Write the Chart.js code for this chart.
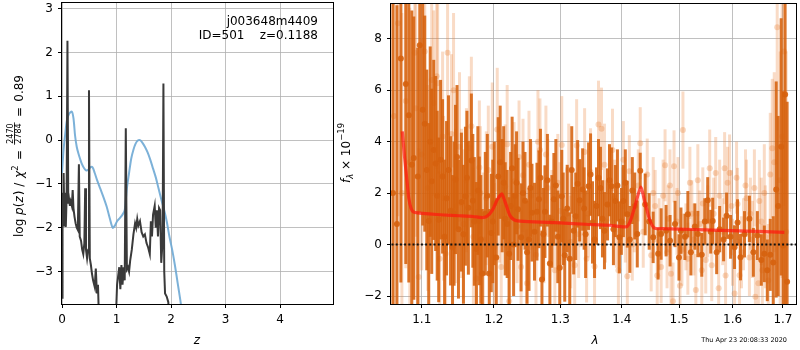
<!DOCTYPE html>
<html>
<head>
<meta charset="utf-8">
<script src="https://cdn.jsdelivr.net/npm/chart.js@4/dist/chart.umd.min.js"></script>
<style>
  body { margin: 0; background: #fff; }
  #wrap { position: relative; width: 800px; height: 350px; }
  canvas { position: absolute; top: 0; }
</style>
</head>
<body>
<div id="wrap">
  <canvas id="pz" width="340" height="350" style="left:0;width:340px;height:350px"></canvas>
  <canvas id="spec" width="470" height="350" style="left:330px;width:470px;height:350px"></canvas>
</div>
<script>
// ---- left panel: log p(z) ----
const zTicks = [0, 1, 2, 3, 4];
const pTicks = [-3, -2, -1, 0, 1, 2, 3];

const zBlue = [0.00, 0.03, 0.06, 0.09, 0.13, 0.18, 0.21, 0.24, 0.27, 0.30, 0.33, 0.36, 0.40, 0.44, 0.48,
  0.52, 0.56, 0.60, 0.64, 0.70, 0.76, 0.82, 0.88, 0.93, 0.97, 1.01, 1.06, 1.11, 1.15, 1.19, 1.23, 1.27,
  1.31, 1.35, 1.39, 1.43, 1.47, 1.52, 1.57, 1.62, 1.67, 1.72, 1.77, 1.82, 1.87, 1.92, 1.97, 2.02, 2.07,
  2.12, 2.17, 2.22];
const pBlue = [-0.75, -0.2, 0.15, 0.45, 0.6, 0.65, 0.5, 0.1, -0.15, -0.3, -0.42, -0.53, -0.63, -0.69, -0.68,
  -0.62, -0.62, -0.75, -0.9, -1.1, -1.3, -1.52, -1.8, -2.0, -1.95, -1.85, -1.78, -1.7, -1.6, -1.1, -0.75, -0.42,
  -0.22, -0.08, -0.01, 0.0, -0.05, -0.15, -0.28, -0.45, -0.65, -0.85, -1.1, -1.35, -1.58, -1.85, -2.2, -2.5, -2.85,
  -3.25, -3.65, -4.1];

const zDark = [0.00, 0.01, 0.02, 0.03, 0.045, 0.055, 0.07, 0.085, 0.10, 0.115, 0.13, 0.145, 0.16, 0.18, 0.196,
  0.21, 0.23, 0.25, 0.27, 0.29, 0.31, 0.325, 0.35, 0.37, 0.39, 0.41, 0.425, 0.44, 0.46, 0.48, 0.495, 0.51,
  0.53, 0.55, 0.57, 0.60, 0.62, 0.64, 0.66, 0.68, 0.70, 0.97, 0.99, 1.01, 1.03, 1.05, 1.07, 1.09, 1.11,
  1.13, 1.15, 1.17, 1.19, 1.21, 1.23, 1.25, 1.28, 1.31, 1.34, 1.36, 1.38, 1.40, 1.43, 1.46, 1.49, 1.52,
  1.55, 1.58, 1.61, 1.63, 1.65, 1.67, 1.70, 1.72, 1.74, 1.76, 1.78, 1.80, 1.82, 1.845, 1.86, 1.875, 1.89,
  1.92, 1.95, 1.97];
const pDark = [-3.6, -1.2, -1.9, -0.75, -1.95, -1.2, -1.98, -1.3, 2.27, -1.45, -1.35, -1.5, -1.4, -1.5, -1.14,
  -1.55, -1.75, -1.9, -2.0, -2.05, -0.55, -2.2, -2.3, -2.5, -2.6, -2.35, -1.1, -2.5, -2.7, -2.5, 1.14, -2.7,
  -2.85, -3.05, -3.2, -3.35, -2.93, -3.5, -3.3, -4.2, -6, -6, -4.0, -3.3, -3.1, -2.9, -3.4, -2.85, -3.3,
  -2.9, -3.2, 0.27, -2.95, -2.9, -3.0, -2.75, -2.5, -2.15, -1.9, -2.0, -1.8, -1.95, -1.85, -2.1, -2.2, -2.15,
  -2.35, -2.45, -2.6, -1.85, -2.2, -1.7, -1.5, -2.0, -1.6, -2.2, -1.55, -1.6, -2.8, -2.3, 1.29, -3.0, -3.5,
  -3.57, -3.7, -4.5];

// ---- right panel: spectrum ----
const lamTicks = [1.1, 1.2, 1.3, 1.4, 1.5, 1.6, 1.7];
const fluxTicks = [-2, 0, 2, 4, 6, 8];

const darkWave = [
  1.0625, 1.0676, 1.0727, 1.0791, 1.0830, 1.0869, 1.0895, 1.0947, 1.0974, 1.1013,
  1.1040, 1.1093, 1.1133, 1.1160, 1.1186, 1.1227, 1.1280, 1.1334, 1.1389, 1.1416,
  1.1457, 1.1498, 1.1539, 1.1595, 1.1636, 1.1678, 1.1720, 1.1749, 1.1791, 1.1833,
  1.1876, 1.1933, 1.1962, 1.2005, 1.2062, 1.2120, 1.2164, 1.2222, 1.2266, 1.2310,
  1.2354, 1.2399, 1.2458, 1.2518, 1.2563, 1.2639, 1.2669, 1.2715, 1.2761, 1.2837,
  1.2899, 1.2960, 1.3022, 1.3069, 1.3148, 1.3211, 1.3274, 1.3306, 1.3354, 1.3402,
  1.3450, 1.3482, 1.3514, 1.3579, 1.3644, 1.3710, 1.3760, 1.3826, 1.3892, 1.3959,
  1.4026, 1.4093, 1.4178, 1.4263, 1.4314, 1.4400, 1.4469, 1.4539, 1.4626, 1.4679,
  1.4767, 1.4838, 1.4927, 1.4998, 1.5034, 1.5106, 1.5160, 1.5215, 1.5288, 1.5343,
  1.5416, 1.5472, 1.5527, 1.5583, 1.5620, 1.5695, 1.5752, 1.5827, 1.5884, 1.5960,
  1.6037, 1.6095, 1.6153, 1.6231, 1.6327, 1.6405, 1.6484, 1.6563, 1.6623, 1.6683,
  1.6743, 1.6803, 1.6863, 1.6903, 1.6964, 1.7005, 1.7045, 1.7086];
const darkFlux = [
  2.0, 0.8, 7.23, 6.24, 5.03, 3.1, 3.36, 2.65, 7.75, 5.24,
  4.7, 0.92, 2.46, 3.68, 3.15, 0.96, 2.65, 1.8, 1.31, -0.1,
  2.53, 0.6, 1.65, 1.88, 1.43, 3.27, 0.9, -0.17, 0.92, -1.12,
  1.2, -1.12, 0.45, 1.6, 2.65, 1.9, 1.0, -0.36, 2.97, 1.9,
  1.37, 0.28, 1.7, 0.2, 1.24, 1.28, 1.76, -1.36, 1.28, -0.74,
  1.76, 0.3, 1.88, -0.42, -0.55, 0.54, 2.36, 1.72, 2.14, 0.4,
  2.27, 2.72, 0.86, 1.5, 2.2, 0.54, 1.56, 2.27, 1.69, 0.28,
  1.69, 1.18, 2.1, 0.41, 2.87, 1.56, 0.9, 0.28, -0.36, 0.41,
  0.54, 0.15, 0.8, -0.5, 0.54, 0.3, 1.18, -0.3, 0.7, 0.41,
  -0.4, 0.9, 1.72, 0.5, 0.92, -0.3, 0.6, 0.2, 1.12, 0.3,
  -0.1, 0.86, -0.49, 0.4, 1.0, -0.3, 0.35, -0.6, -0.36, -1.0,
  -0.4, -0.7, 2.14, 1.5, 3.8, -0.04, 5.83, -1.45];
const darkErr = [
  8.0, 8.5, 8.7, 7.0, 6.5, 6.0, 5.5, 5.0, 6.5, 4.5,
  4.2, 3.8, 3.6, 3.5, 3.4, 3.2, 3.0, 3.0, 2.9, 2.8,
  2.9, 2.7, 2.7, 2.7, 2.6, 2.6, 2.5, 2.6, 2.5, 2.5,
  2.4, 2.5, 2.3, 2.4, 2.3, 2.2, 2.2, 2.2, 2.0, 2.0,
  2.0, 2.1, 1.9, 2.0, 1.9, 1.9, 1.9, 1.9, 1.8, 1.9,
  1.8, 1.8, 1.8, 1.8, 1.8, 1.7, 1.7, 1.6, 1.6, 1.7,
  1.7, 1.6, 1.6, 1.5, 1.6, 1.5, 1.4, 1.5, 1.4, 1.4,
  1.4, 1.3, 1.3, 1.3, 0.7, 1.2, 1.1, 1.0, 1.0, 1.0,
  1.0, 1.0, 0.9, 0.9, 0.9, 0.9, 0.9, 0.9, 0.9, 0.9,
  0.85, 0.9, 0.9, 0.85, 0.9, 0.85, 0.9, 0.85, 0.9, 0.85,
  0.85, 0.9, 0.9, 0.9, 0.9, 0.95, 0.95, 1.0, 1.1, 1.2,
  1.4, 1.8, 4.2, 3.5, 5.0, 6.0, 9.0, 7.0];

// more dark points read between the ones above (1.10 - 1.42)
const darkWave2 = [
  1.1067, 1.1113, 1.1207, 1.1253, 1.1307, 1.1361, 1.1437, 1.1478, 1.1567, 1.1616,
  1.1699, 1.1770, 1.1812, 1.1905, 1.1983, 1.2034, 1.2091, 1.2142, 1.2193, 1.2244,
  1.2288, 1.2332, 1.2428, 1.2488, 1.2540, 1.2601, 1.2692, 1.2738, 1.2799, 1.2868,
  1.2930, 1.2991, 1.3045, 1.3108, 1.3180, 1.3243, 1.3378, 1.3547, 1.3612, 1.3677,
  1.3793, 1.3859, 1.3926, 1.3992, 1.4059, 1.4136, 1.4220];
const darkFlux2 = [
  2.9, 4.0, 1.9, 3.3, 0.3, 2.9, 1.2, 3.4, 0.4, 2.6,
  1.7, 2.1, 0.2, 1.9, 0.9, -0.5, 3.2, 2.4, 0.8, 1.5,
  0.0, 2.4, 2.0, -0.3, 2.2, 0.5, 2.6, 0.4, 2.5, 0.9,
  2.3, -0.9, 1.0, 1.4, 2.9, 1.1, 1.4, 0.2, 2.6, 1.0,
  2.5, 0.6, 2.3, 0.9, 2.4, 0.2, 1.5];
const darkErr2 = [
  3.9, 3.7, 3.3, 3.1, 3.0, 2.9, 2.8, 2.8, 2.7, 2.6,
  2.6, 2.5, 2.5, 2.4, 2.4, 2.3, 2.2, 2.2, 2.1, 2.1,
  2.0, 2.0, 2.0, 2.0, 1.9, 1.9, 1.9, 1.8, 1.8, 1.8,
  1.8, 1.8, 1.8, 1.7, 1.7, 1.7, 1.6, 1.5, 1.5, 1.5,
  1.4, 1.4, 1.4, 1.3, 1.3, 1.3, 1.3];

const lightWave = [
  1.0637, 1.0689, 1.0740, 1.0791, 1.0843, 1.0908, 1.0921, 1.0960, 1.1000, 1.1040,
  1.1080, 1.1133, 1.1200, 1.1213, 1.1240, 1.1280, 1.1321, 1.1348, 1.1402, 1.1457,
  1.1512, 1.1567, 1.1609, 1.1650, 1.1706, 1.1749, 1.1805, 1.1847, 1.1890, 1.1919,
  1.1976, 1.2005, 1.2048, 1.2106, 1.2164, 1.2222, 1.2295, 1.2340, 1.2399, 1.2428,
  1.2488, 1.2548, 1.2624, 1.2654, 1.2684, 1.2745, 1.2806, 1.2868, 1.2914, 1.2960,
  1.3022, 1.3101, 1.3164, 1.3227, 1.3258, 1.3322, 1.3386, 1.3418, 1.3482, 1.3547,
  1.3612, 1.3661, 1.3727, 1.3793, 1.3843, 1.3909, 1.3942, 1.4009, 1.4059, 1.4093,
  1.4127, 1.4212, 1.4280, 1.4314, 1.4366, 1.4435, 1.4504, 1.4574, 1.4644, 1.4679,
  1.4749, 1.4802, 1.4855, 1.4891, 1.4909, 1.4962, 1.5016, 1.5070, 1.5124, 1.5160,
  1.5233, 1.5306, 1.5379, 1.5435, 1.5490, 1.5564, 1.5639, 1.5677, 1.5733, 1.5809,
  1.5846, 1.5903, 1.5941, 1.5998, 1.6037, 1.6095, 1.6134, 1.6211, 1.6269, 1.6327,
  1.6386, 1.6445, 1.6524, 1.6583, 1.6643, 1.6703, 1.6743, 1.6783, 1.6823, 1.6883,
  1.6944, 1.6984, 1.7025, 1.7066];
const lightFlux = [
  5.0, 8.6, 2.0, 5.58, 3.2, 7.46, 5.3, -1.26, 3.5, 7.5,
  2.2, 6.4, 6.54, 6.27, -0.55, 4.2, -0.36, 7.46, 4.3, 1.5,
  3.8, 0.8, 2.5, 3.74, 0.3, -1.32, 2.0, 0.2, 1.8, 2.9,
  3.8, -0.1, 4.47, -0.87, 2.27, -2.2, 2.46, 0.7, -0.87, 2.69,
  -1.5, 1.9, -0.4, 4.0, 3.68, 0.5, 2.2, 1.0, -1.0, 2.4,
  3.87, 1.2, 0.1, -0.8, 3.85, 1.6, 3.6, -0.55, 2.82, -0.85,
  4.67, 4.5, 0.9, 2.4, 3.68, 0.6, -1.0, 1.5, 0.8, -1.23,
  2.85, 1.1, 2.3, 3.94, 0.5, 2.72, -0.42, 1.5, 0.4, -0.87,
  3.08, 1.0, -1.13, -2.2, 3.04, 0.9, -1.6, 4.45, 0.3, -0.55,
  1.2, -1.77, 0.8, 1.6, -0.6, 2.97, 1.2, 2.78, -1.7, 0.5,
  2.97, 2.4, 2.78, -0.3, -1.9, 1.58, -1.19, 0.4, 1.8, -0.5,
  0.2, -2.03, 1.69, -1.0, 0.3, -1.4, 2.72, 3.74, 3.2, 8.45,
  2.5, 4.2, 7.5, 0.5];
const lightErr = [
  8.0, 7.5, 7.0, 6.5, 6.0, 5.5, 5.0, 5.0, 4.5, 4.2,
  4.0, 3.8, 3.6, 3.5, 3.4, 3.3, 3.2, 3.2, 3.1, 3.0,
  2.9, 2.9, 2.8, 2.8, 2.7, 2.7, 2.6, 2.6, 2.6, 2.5,
  2.5, 2.5, 2.4, 2.4, 2.4, 2.3, 2.3, 2.2, 2.2, 2.2,
  2.1, 2.1, 2.0, 2.0, 2.0, 2.0, 1.9, 1.9, 1.9, 1.9,
  1.9, 1.8, 1.8, 1.8, 1.8, 1.7, 1.7, 1.7, 1.7, 1.6,
  1.7, 1.6, 1.6, 1.5, 1.6, 1.5, 1.5, 1.5, 1.5, 1.4,
  1.4, 1.4, 1.4, 1.4, 1.4, 1.4, 1.4, 1.4, 1.4, 1.4,
  1.4, 1.3, 1.4, 1.5, 1.4, 1.3, 1.4, 1.5, 1.3, 1.4,
  1.3, 1.4, 1.3, 1.4, 1.3, 1.5, 1.4, 1.4, 1.4, 1.3,
  1.4, 1.4, 1.5, 1.3, 1.5, 1.4, 1.4, 1.4, 1.5, 1.5,
  1.5, 1.6, 1.6, 1.8, 2.0, 2.2, 2.4, 2.7, 3.5, 4.0,
  5.0, 5.5, 6.0, 7.0];

// more light points read between the ones above
const lightWave2 = [
  1.4540, 1.4610, 1.4714, 1.4784, 1.4836, 1.4980, 1.5052, 1.5197, 1.5270, 1.5343,
  1.5416, 1.5527, 1.5602, 1.5752, 1.5865, 1.5979, 1.6076, 1.6172, 1.6250, 1.6346,
  1.6425, 1.6504, 1.6563, 1.6623, 1.1160, 1.1294, 1.1430, 1.1540, 1.1678, 1.1791,
  1.2077, 1.2193, 1.2369, 1.2518, 1.2776, 1.2991, 1.3132, 1.3290, 1.3450, 1.3710,
  1.3876, 1.4026, 1.4178];
const lightFlux2 = [
  2.0, -1.2, 1.9, -0.3, 2.3, 2.0, -0.2, 2.4, 0.2, 2.5,
  -1.0, 0.9, -0.8, 1.9, -1.2, 1.5, 2.6, -0.3, 2.3, 1.2,
  2.2, -1.5, 0.9, 2.0, 5.5, 1.8, 6.0, 1.6, 4.6, 3.0,
  1.7, 3.9, 3.4, 3.1, 3.5, 1.3, 2.9, 0.4, 1.2, 3.1,
  1.8, 3.3, 0.0];
const lightErr2 = [
  1.4, 1.4, 1.4, 1.4, 1.4, 1.4, 1.4, 1.4, 1.4, 1.4,
  1.4, 1.4, 1.4, 1.4, 1.4, 1.4, 1.4, 1.4, 1.4, 1.4,
  1.5, 1.6, 1.7, 1.9, 3.6, 3.2, 3.0, 2.9, 2.7, 2.6,
  2.4, 2.3, 2.2, 2.1, 1.9, 1.9, 1.8, 1.7, 1.7, 1.6,
  1.5, 1.5, 1.4];

const modelWave = [1.0745, 1.0775, 1.0805, 1.0830, 1.0860, 1.0890, 1.0950, 1.1100, 1.1300, 1.1500,
  1.1700, 1.1830, 1.1900, 1.1980, 1.2050, 1.2115, 1.2170, 1.2230, 1.2290, 1.2350, 1.2600, 1.3000,
  1.3400, 1.3800, 1.4080, 1.4150, 1.4230, 1.4323, 1.4400, 1.4480, 1.4560, 1.4700, 1.5000, 1.5500,
  1.6000, 1.6500, 1.7030];
const modelFlux = [4.4, 3.4, 2.5, 1.8, 1.4, 1.27, 1.23, 1.19, 1.15, 1.12,
  1.09, 1.05, 1.1, 1.35, 1.75, 1.97, 1.6, 1.15, 0.97, 0.92, 0.88, 0.84,
  0.79, 0.75, 0.69, 0.95, 1.55, 2.23, 1.6, 0.95, 0.64, 0.62, 0.6, 0.57,
  0.54, 0.51, 0.47];

Chart.defaults.font.family = "'DejaVu Sans', sans-serif";
Chart.defaults.font.size = 12;
Chart.defaults.color = '#000';

const FONT = "'DejaVu Sans', sans-serif";
const minus = v => (v < 0 ? '\u2212' + Math.abs(v) : String(v));
const toXY = (xs, ys) => xs.map((x, i) => ({ x: x, y: ys[i] }));

function axisOpts(extra) {
  return Object.assign({
    grid: { color: '#b0b0b0', lineWidth: 0.8, tickColor: '#000', tickLength: 4, tickWidth: 1 },
    border: { display: false },
    ticks: { color: '#000', autoSkip: false, maxRotation: 0, font: { size: 12 } }
  }, extra);
}

// black frame around the plot area
const frame = {
  id: 'frame',
  afterDraw(chart) {
    const { ctx, chartArea: a } = chart;
    ctx.save();
    ctx.strokeStyle = '#000';
    ctx.lineWidth = 1;
    ctx.strokeRect(Math.round(a.left) - 0.5, Math.round(a.top) - 0.5,
      Math.round(a.right - a.left) + 1, Math.round(a.bottom - a.top) + 1);
    ctx.restore();
  }
};

// vertical error bars, drawn under each dataset's markers
const errorBars = {
  id: 'errorBars',
  beforeDatasetDraw(chart, args) {
    const ds = chart.data.datasets[args.index];
    if (!ds.errs) return;
    const { ctx, chartArea: a } = chart;
    const x = chart.scales.x, y = chart.scales.y;
    ctx.save();
    ctx.beginPath();
    ctx.rect(a.left, a.top, a.right - a.left, a.bottom - a.top);
    ctx.clip();
    ctx.strokeStyle = ds.barColor;
    ctx.lineWidth = 3;
    ds.data.forEach((p, i) => {
      const px = x.getPixelForValue(p.x);
      ctx.beginPath();
      ctx.moveTo(px, y.getPixelForValue(p.y - ds.errs[i]));
      ctx.lineTo(px, y.getPixelForValue(p.y + ds.errs[i]));
      ctx.stroke();
    });
    ctx.restore();
  }
};

// rotated label made of pieces (normal, italic, super/subscript, fraction)
function mathLabel(ctx, bx, cy, parts) {
  ctx.save();
  ctx.translate(bx, cy);
  ctx.rotate(-Math.PI / 2);
  ctx.fillStyle = '#000';
  ctx.textBaseline = 'alphabetic';
  let total = 0;
  parts.forEach(p => {
    ctx.font = p.font;
    if (p.frac) {
      p.w = Math.max(ctx.measureText(p.frac[0]).width, ctx.measureText(p.frac[1]).width) + 2;
    } else {
      p.w = ctx.measureText(p.t).width + (p.pad || 0);
    }
    total += p.w;
  });
  let x = -total / 2;
  parts.forEach(p => {
    ctx.font = p.font;
    if (p.frac) {
      ctx.textAlign = 'center';
      ctx.fillText(p.frac[0], x + p.w / 2, -9.2);
      ctx.fillText(p.frac[1], x + p.w / 2, -1.6);
      ctx.fillRect(x, -8.4, p.w, 0.8);
      ctx.textAlign = 'left';
    } else {
      ctx.textAlign = 'left';
      ctx.fillText(p.t, x + (p.pad || 0) / 2, p.dy || 0);
    }
    x += p.w;
  });
  ctx.restore();
}

const N = '12px ' + FONT, I = 'italic 12px ' + FONT, S = '8.5px ' + FONT, SI = 'italic 8.5px ' + FONT;

const leftText = {
  id: 'leftText',
  afterDraw(chart) {
    const ctx = chart.ctx;
    ctx.save();
    ctx.fillStyle = '#000';
    ctx.font = N;
    ctx.textAlign = 'right';
    ctx.textBaseline = 'alphabetic';
    ctx.fillText('j003648m4409', 318, 24.5);
    ctx.fillText('ID=501    z=0.1188', 318, 38.5);
    ctx.font = I;
    ctx.textAlign = 'center';
    ctx.fillText('z', 197, 343.5);
    ctx.restore();
    mathLabel(ctx, 22.5, 156, [
      { t: 'log ', font: N },
      { t: 'p', font: I },
      { t: '(', font: N },
      { t: 'z', font: I },
      { t: ') / ', font: N, pad: 2 },
      { t: '\u03c7', font: I },
      { t: '2', font: S, dy: -5 },
      { t: ' = ', font: N, pad: 3 },
      { frac: ['2470', '2784'], font: '8px ' + FONT },
      { t: ' = ', font: N, pad: 3 },
      { t: '0.89', font: N }
    ]);
  }
};

const rightText = {
  id: 'rightText',
  afterDraw(chart) {
    const ctx = chart.ctx;
    ctx.save();
    ctx.fillStyle = '#000';
    ctx.font = I;
    ctx.textAlign = 'center';
    ctx.fillText('\u03bb', 265, 344);
    ctx.font = '6.5px ' + FONT;
    ctx.textAlign = 'right';
    ctx.fillText('Thu Apr 23 20:08:33 2020', 457, 342);
    ctx.restore();
    mathLabel(ctx, 19.5, 153, [
      { t: 'f', font: I },
      { t: '\u03bb', font: SI, dy: 3 },
      { t: ' \u00d7 10', font: N },
      { t: '\u221219', font: S, dy: -5.5 }
    ]);
  }
};

new Chart(document.getElementById('pz'), {
  type: 'line',
  data: {
    datasets: [
      { data: toXY(zDark, pDark), borderColor: '#3a3a3a', borderWidth: 2, pointRadius: 0, tension: 0, order: 0 },
      { data: toXY(zBlue, pBlue), borderColor: 'rgba(110,168,212,0.9)', borderWidth: 2, pointRadius: 0, tension: 0.3, order: 1 }
    ]
  },
  options: {
    responsive: false,
    animation: false,
    layout: { padding: { top: 3, right: 7, left: 0, bottom: 0 } },
    plugins: { legend: { display: false }, tooltip: { enabled: false } },
    scales: {
      x: axisOpts({
        type: 'linear', min: 0, max: 4.97,
        afterBuildTicks: s => { s.ticks = zTicks.map(v => ({ value: v })); },
        afterFit: s => { s.height = 46; s.paddingLeft = 0; s.paddingRight = 0; },
        ticks: { color: '#000', autoSkip: false, maxRotation: 0, padding: 5, callback: v => minus(v) }
      }),
      y: axisOpts({
        type: 'linear', min: -3.74, max: 3.13,
        afterBuildTicks: s => { s.ticks = pTicks.map(v => ({ value: v })); },
        afterFit: s => { s.width = 62; s.paddingTop = 0; s.paddingBottom = 0; },
        ticks: { color: '#000', autoSkip: false, padding: 5, callback: v => minus(v) }
      })
    }
  },
  plugins: [frame, leftText]
});

new Chart(document.getElementById('spec'), {
  type: 'scatter',
  data: {
    datasets: [
      { data: [{ x: 1.05, y: 0 }, { x: 1.75, y: 0 }], showLine: true, borderColor: '#111', borderWidth: 2,
        borderDash: [2, 2.2], pointRadius: 0, order: 0 },
      { data: toXY(modelWave, modelFlux), showLine: true, borderColor: 'rgba(255,25,15,0.72)', borderWidth: 3.2,
        pointRadius: 0, tension: 0.2, order: 1 },
      { data: toXY(darkWave.concat(darkWave2), darkFlux.concat(darkFlux2)), errs: darkErr.concat(darkErr2),
        barColor: 'rgba(214,98,14,0.88)', backgroundColor: 'rgba(214,98,14,0.9)', borderWidth: 0,
        pointRadius: 3, order: 2 },
      { data: toXY(lightWave.concat(lightWave2), lightFlux.concat(lightFlux2)), errs: lightErr.concat(lightErr2),
        barColor: 'rgba(232,125,50,0.28)', backgroundColor: 'rgba(232,125,50,0.3)', borderWidth: 0,
        pointRadius: 3, order: 3 }
    ]
  },
  options: {
    responsive: false,
    animation: false,
    layout: { padding: { top: 1, right: 1, left: 0, bottom: 0 } },
    plugins: { legend: { display: false }, tooltip: { enabled: false } },
    scales: {
      x: axisOpts({
        type: 'logarithmic', min: 1.06, max: 1.727, z: 1,
        afterBuildTicks: s => { s.ticks = lamTicks.map(v => ({ value: v })); },
        afterFit: s => { s.height = 46; s.paddingLeft = 0; s.paddingRight = 0; },
        ticks: { color: '#000', autoSkip: false, maxRotation: 0, padding: 5, callback: v => Number(v).toFixed(1) }
      }),
      y: axisOpts({
        type: 'linear', min: -2.31, max: 9.35, z: 1,
        afterBuildTicks: s => { s.ticks = fluxTicks.map(v => ({ value: v })); },
        afterFit: s => { s.width = 61; s.paddingTop = 0; s.paddingBottom = 0; },
        ticks: { color: '#000', autoSkip: false, padding: 5, callback: v => minus(v) }
      })
    }
  },
  plugins: [errorBars, frame, rightText]
});
</script>
</body>
</html>
